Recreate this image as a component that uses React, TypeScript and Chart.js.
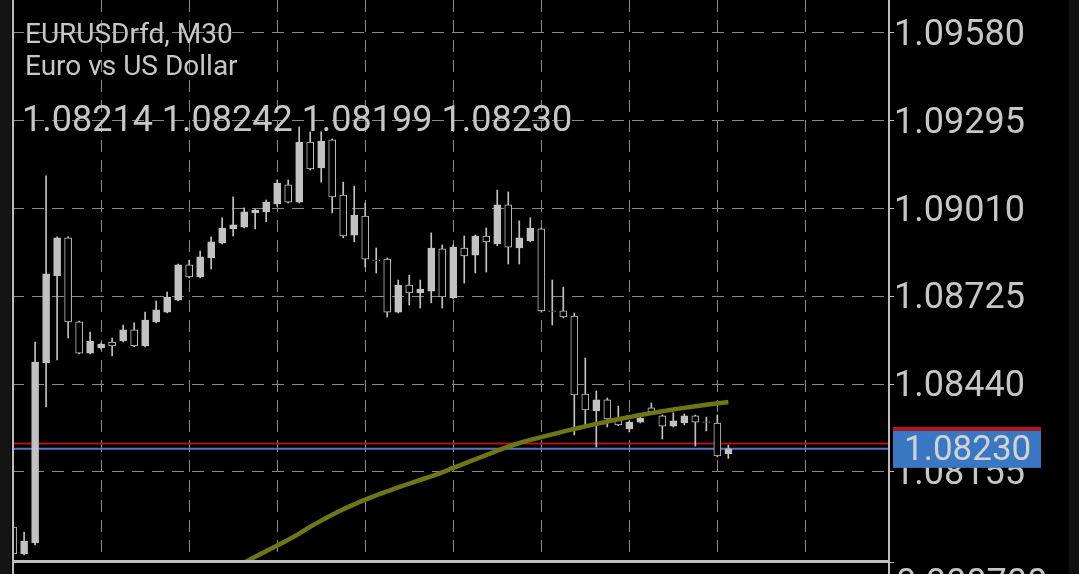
import React, { useEffect, useRef } from 'react';
import { Chart, registerables } from 'chart.js';

Chart.register(...registerables);

const symbolTitle = 'EURUSDrfd, M30';
const symbolDesc = 'Euro vs US Dollar';
const bidPrice = 1.0823;
const askPrice = 1.08247;
const subWindowLabel = '0.000700';

const opens = [
  1.07976, 1.07889, 1.07925, 1.08509, 1.08791, 1.08915, 1.08642, 1.08541, 1.08558, 1.08577,
  1.0858, 1.08616, 1.08564, 1.08642, 1.08674, 1.08713, 1.08827, 1.08788, 1.0885, 1.08898,
  1.08944, 1.0895, 1.08996, 1.08999, 1.09025, 1.09087, 1.09031, 1.09226, 1.09142, 1.09233,
  1.09054, 1.08924, 1.08986, 1.08843, 1.08846, 1.08674, 1.08762, 1.08736, 1.08742, 1.08879,
  1.0872, 1.08882, 1.08859, 1.08921, 1.08895, 1.09022, 1.08882, 1.08905, 1.08944, 1.08678,
  1.08678, 1.08661, 1.08408, 1.08353, 1.08389, 1.0833, 1.08295, 1.08317, 1.08363, 1.08337,
  1.08304, 1.08314, 1.08337, 1.08318, 1.08314, 1.08214,
];
const highs = [
  1.07978, 1.0796, 1.08577, 1.09116, 1.08918, 1.08918, 1.08645, 1.08609, 1.08574, 1.0859,
  1.08632, 1.08639, 1.08674, 1.0871, 1.08739, 1.0883, 1.08843, 1.08872, 1.08918, 1.0898,
  1.09048, 1.09012, 1.09008, 1.09038, 1.09103, 1.09103, 1.09275, 1.09259, 1.09259, 1.09236,
  1.09096, 1.09083, 1.09028, 1.08882, 1.0885, 1.08778, 1.08794, 1.08778, 1.08931, 1.08892,
  1.08892, 1.08921, 1.08924, 1.08947, 1.0907, 1.09064, 1.0897, 1.0898, 1.08947, 1.08778,
  1.08755, 1.08671, 1.08525, 1.08418, 1.08395, 1.08369, 1.08321, 1.0834, 1.08379, 1.0834,
  1.08347, 1.08343, 1.0834, 1.08333, 1.0834, 1.08242,
];
const lows = [
  1.07886, 1.07886, 1.07918, 1.08366, 1.08519, 1.0859, 1.08538, 1.08538, 1.08554, 1.08532,
  1.08577, 1.08562, 1.08561, 1.08639, 1.08671, 1.0871, 1.08785, 1.08785, 1.08814, 1.08895,
  1.08921, 1.08947, 1.08944, 1.08967, 1.09018, 1.09028, 1.09028, 1.09135, 1.09096, 1.08996,
  1.08915, 1.08902, 1.0882, 1.08801, 1.08658, 1.08671, 1.08697, 1.08687, 1.08704, 1.08687,
  1.08717, 1.08768, 1.08801, 1.08804, 1.08889, 1.0883, 1.0883, 1.08902, 1.08674, 1.08632,
  1.08655, 1.08275, 1.08308, 1.08236, 1.08301, 1.08305, 1.08285, 1.08314, 1.08348, 1.08262,
  1.08301, 1.08308, 1.08239, 1.08288, 1.08204, 1.08199,
];
const closes = [
  1.07889, 1.07931, 1.08512, 1.08798, 1.08915, 1.08642, 1.08541, 1.0858, 1.0857, 1.08564,
  1.08616, 1.08564, 1.08648, 1.08681, 1.08723, 1.08827, 1.08788, 1.08853, 1.08902, 1.08947,
  1.08957, 1.08999, 1.09005, 1.09031, 1.09093, 1.09031, 1.09226, 1.09139, 1.09229, 1.09048,
  1.08921, 1.08989, 1.08846, 1.08841, 1.08674, 1.08762, 1.08736, 1.08749, 1.08882, 1.08723,
  1.08885, 1.08856, 1.08921, 1.08902, 1.09022, 1.08885, 1.08915, 1.08947, 1.08678, 1.08676,
  1.08658, 1.08405, 1.08356, 1.08389, 1.08327, 1.08308, 1.08317, 1.0833, 1.0835, 1.08304,
  1.08321, 1.08337, 1.08317, 1.08316, 1.08207, 1.0823,
];

const maStartIndex = 20;
const maValues = [
  1.0784, 1.07861, 1.0788, 1.07898, 1.07916, 1.07935, 1.07955, 1.07977, 1.07997, 1.08016,
  1.08034, 1.0805, 1.08065, 1.08079, 1.08092, 1.08105, 1.08117, 1.08129, 1.08141, 1.08154,
  1.08168, 1.08182, 1.08196, 1.0821, 1.08224, 1.08237, 1.08249, 1.08259, 1.08268, 1.08277,
  1.08286, 1.08295, 1.08303, 1.08311, 1.08319, 1.08326, 1.08333, 1.0834, 1.08346, 1.08352,
  1.08358, 1.08363, 1.08368, 1.08373, 1.08378, 1.08382,
];

const priceTicks = [1.08155, 1.0844, 1.08725, 1.0901, 1.09295, 1.0958];
const timeGridIndexes = [0, 8, 16, 24, 32, 40, 48, 56, 64, 72];

const X_MIN = -0.1;
const X_MAX = 79.6;
const Y_MIN = 1.07866;
const Y_MAX = 1.09687;

const CANDLE = '#c2c2c2';
const TEXT = '#c6c6c6';
const GRID = '#8a8a8a';
const FRAME = '#bdbdbd';

export default function App() {
  const canvasRef = useRef<HTMLCanvasElement | null>(null);

  useEffect(() => {
    const canvas = canvasRef.current;
    if (!canvas) return;

    const wickData = highs.map((h, i) => ({ x: i, y: [lows[i], h] }));
    const bodyData = opens.map((o, i) => ({ x: i, y: [o, closes[i]] }));
    const bullish = opens.map((o, i) => closes[i] >= o);
    const maData = maValues.map((v, k) => ({ x: maStartIndex + k, y: v }));

    const last = opens.length - 1;
    const ohlcLine = [opens[last], highs[last], lows[last], closes[last]]
      .map((v) => v.toFixed(5))
      .join(' ');

    const overlay = {
      id: 'mtOverlay',
      beforeDraw(chart: any) {
        const ctx = chart.ctx;
        ctx.save();
        ctx.fillStyle = '#000000';
        ctx.fillRect(0, 0, chart.width, chart.height);
        ctx.fillStyle = '#141414';
        ctx.fillRect(0, 0, 11, chart.height);
        ctx.fillStyle = '#101010';
        ctx.fillRect(1069, 0, chart.width - 1069, chart.height);
        ctx.restore();
      },
      afterDraw(chart: any) {
        const ctx = chart.ctx;
        const area = chart.chartArea;
        const yScale = chart.scales.y;
        ctx.save();
        ctx.strokeStyle = FRAME;
        ctx.lineWidth = 2;
        ctx.beginPath();
        ctx.moveTo(area.left + 1, 0);
        ctx.lineTo(area.left + 1, chart.height);
        ctx.stroke();
        ctx.beginPath();
        ctx.moveTo(area.right, 0);
        ctx.lineTo(area.right, chart.height);
        ctx.stroke();
        ctx.lineWidth = 3;
        ctx.beginPath();
        ctx.moveTo(area.left, area.bottom + 0.5);
        ctx.lineTo(area.right, area.bottom + 0.5);
        ctx.stroke();
        ctx.lineWidth = 1;
        ctx.beginPath();
        ctx.moveTo(area.right, area.bottom + 1.5);
        ctx.lineTo(area.right + 5, area.bottom + 1.5);
        ctx.stroke();

        ctx.fillStyle = TEXT;
        ctx.textBaseline = 'alphabetic';
        ctx.textAlign = 'left';
        ctx.font = '28px Roboto';
        ctx.fillText(symbolTitle, 25, 43);
        ctx.fillText(symbolDesc, 25, 75);
        ctx.font = '36px Roboto';
        ctx.fillText(ohlcLine, 22, 131);

        ctx.font = '36px Roboto';
        ctx.fillText(subWindowLabel, 896, 594);

        const by = yScale.getPixelForValue(bidPrice);
        ctx.fillStyle = '#b3161c';
        ctx.fillRect(893, by - 22, 148, 4);
        ctx.fillStyle = '#3a77c2';
        ctx.fillRect(893, by - 18, 148, 37);
        ctx.fillStyle = '#d2d2d2';
        ctx.font = '35px Roboto';
        ctx.textBaseline = 'middle';
        ctx.fillText(bidPrice.toFixed(5), 904, by + 2);
        ctx.restore();
      },
    };

    const chart = new Chart(canvas, {
      type: 'bar',
      data: {
        datasets: [
          {
            type: 'line',
            label: 'MA',
            data: maData,
            borderColor: '#6f7616',
            borderWidth: 4.5,
            pointRadius: 0,
            cubicInterpolationMode: 'monotone',
            fill: false,
            order: 0,
          } as any,
          {
            label: 'Bodies',
            data: bodyData as any,
            backgroundColor: bullish.map((b) => (b ? CANDLE : '#000000')),
            borderColor: CANDLE,
            borderWidth: 1,
            borderSkipped: false,
            barThickness: 7,
            grouped: false,
            order: 1,
          } as any,
          {
            label: 'Wicks',
            data: wickData as any,
            backgroundColor: CANDLE,
            borderWidth: 0,
            barThickness: 1,
            grouped: false,
            order: 2,
          } as any,
          {
            type: 'line',
            label: 'Ask',
            data: [
              { x: X_MIN, y: askPrice },
              { x: X_MAX, y: askPrice },
            ],
            borderColor: '#a8161b',
            borderWidth: 2,
            pointRadius: 0,
            order: 3,
          } as any,
          {
            type: 'line',
            label: 'Bid',
            data: [
              { x: X_MIN, y: bidPrice },
              { x: X_MAX, y: bidPrice },
            ],
            borderColor: '#5277c0',
            borderWidth: 2,
            pointRadius: 0,
            order: 4,
          } as any,
        ],
      },
      options: {
        responsive: false,
        animation: false,
        maintainAspectRatio: false,
        layout: { padding: { left: 12, right: 0, top: 0, bottom: 13 } },
        plugins: {
          legend: { display: false },
          tooltip: { enabled: false },
          title: { display: false },
        },
        scales: {
          x: {
            type: 'linear',
            min: X_MIN,
            max: X_MAX,
            offset: false,
            grid: { color: GRID, lineWidth: 1, drawTicks: false, offset: false },
            border: { display: false, dash: [12, 8] },
            ticks: { display: false },
            afterBuildTicks: (scale: any) => {
              scale.ticks = timeGridIndexes.map((v) => ({ value: v }));
            },
            afterFit: (scale: any) => {
              scale.height = 0;
              scale.paddingLeft = 0;
              scale.paddingRight = 0;
            },
          },
          y: {
            type: 'linear',
            position: 'right',
            min: Y_MIN,
            max: Y_MAX,
            beginAtZero: false,
            grid: {
              color: GRID,
              lineWidth: 1,
              drawTicks: true,
              tickLength: 5,
              tickColor: FRAME,
              tickBorderDash: [],
              tickWidth: 1,
            },
            border: { display: false, dash: [12, 8] },
            ticks: {
              color: TEXT,
              padding: 0,
              labelOffset: 3,
              font: { family: 'Roboto', size: 36 },
              callback: (v: any) => Number(v).toFixed(5),
            },
            afterBuildTicks: (scale: any) => {
              scale.ticks = priceTicks.map((v) => ({ value: v }));
            },
            afterFit: (scale: any) => {
              scale.width = 190;
              scale.paddingTop = 0;
              scale.paddingBottom = 0;
            },
          },
        },
      },
      plugins: [overlay],
    });

    return () => {
      chart.destroy();
    };
  }, []);

  return (
    <div style={{ position: 'absolute', left: 0, top: 0, width: 1079, height: 574, background: '#000' }}>
      <canvas ref={canvasRef} width={1079} height={574} style={{ display: 'block', width: 1079, height: 574 }} />
    </div>
  );
}
